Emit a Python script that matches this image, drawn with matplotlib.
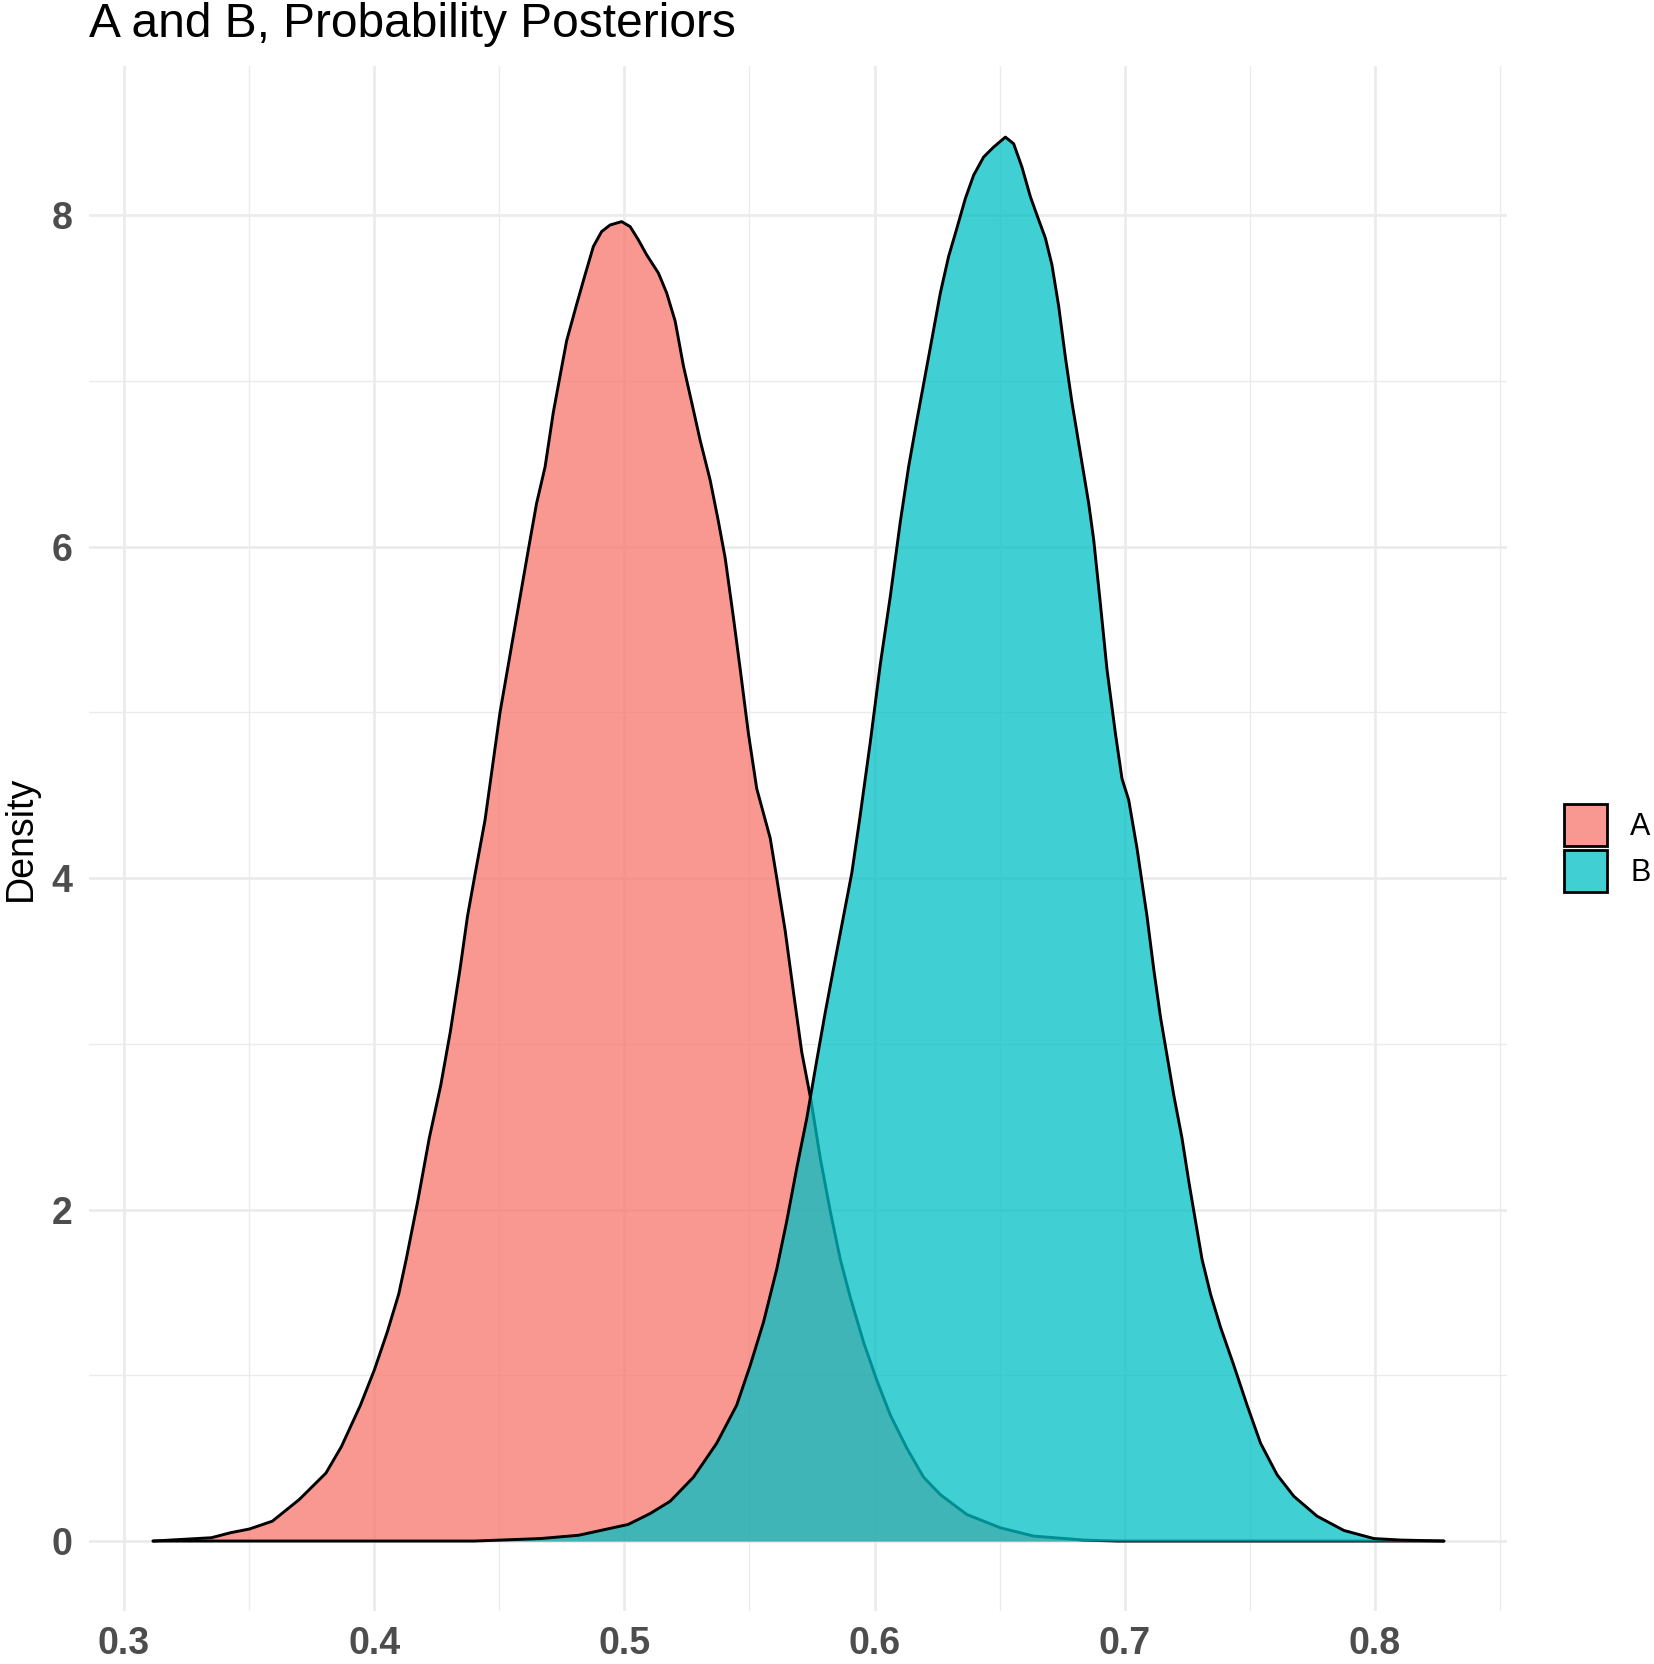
import matplotlib
matplotlib.use("Agg")
import matplotlib.pyplot as plt
from matplotlib.patches import Patch

plt.rcParams['font.family'] = ['Liberation Sans', 'DejaVu Sans']

# density curves (x, density)
a_x = [0.3116, 0.3349, 0.3425, 0.3502, 0.3593, 0.3700, 0.3807, 0.3869, 0.3945, 0.4000,
       0.4052, 0.4098, 0.4128, 0.4174, 0.4220, 0.4266, 0.4304, 0.4343, 0.4373, 0.4404,
       0.4443, 0.4503, 0.4556, 0.4616, 0.4649, 0.4683, 0.4716, 0.4743, 0.4769, 0.4809,
       0.4843, 0.4876, 0.4909, 0.4943, 0.4989, 0.5023, 0.5056, 0.5089, 0.5136, 0.5169,
       0.5203, 0.5236, 0.5269, 0.5303, 0.5343, 0.5376, 0.5403, 0.5436, 0.5463, 0.5496,
       0.5529, 0.5583, 0.5609, 0.5643, 0.5676, 0.5709, 0.5747, 0.5783, 0.5823, 0.5863,
       0.5903, 0.5956, 0.6009, 0.6063, 0.6129, 0.6196, 0.6263, 0.6369, 0.6503, 0.6636,
       0.6836, 0.6970, 0.8276]
a_y = [0.0, 0.02, 0.05, 0.073, 0.12, 0.25, 0.41, 0.57, 0.82, 1.03,
       1.26, 1.49, 1.70, 2.05, 2.43, 2.75, 3.07, 3.45, 3.77, 4.03,
       4.35, 5.00, 5.46, 5.98, 6.26, 6.48, 6.81, 7.03, 7.24, 7.46,
       7.64, 7.81, 7.90, 7.94, 7.96, 7.93, 7.85, 7.76, 7.65, 7.53,
       7.36, 7.09, 6.87, 6.64, 6.40, 6.15, 5.93, 5.57, 5.26, 4.87,
       4.54, 4.24, 4.00, 3.68, 3.31, 2.95, 2.65, 2.31, 1.99, 1.70,
       1.47, 1.20, 0.97, 0.76, 0.56, 0.385, 0.28, 0.16, 0.08, 0.03,
       0.006, 0.0, 0.0]

b_x = [0.3116, 0.4400, 0.4664, 0.4817, 0.5015, 0.5103, 0.5183, 0.5276, 0.5369, 0.5449,
       0.5503, 0.5556, 0.5609, 0.5649, 0.5689, 0.5729, 0.5769, 0.5803, 0.5843, 0.5876,
       0.5909, 0.5940, 0.5983, 0.6023, 0.6063, 0.6103, 0.6136, 0.6169, 0.6196, 0.6229,
       0.6263, 0.6296, 0.6329, 0.6363, 0.6396, 0.6436, 0.6476, 0.6523, 0.6556, 0.6589,
       0.6623, 0.6649, 0.6683, 0.6709, 0.6736, 0.6763, 0.6789, 0.6823, 0.6856, 0.6876,
       0.6903, 0.6929, 0.6963, 0.6989, 0.7016, 0.7049, 0.7089, 0.7116, 0.7143, 0.7169,
       0.7196, 0.7229, 0.7256, 0.7283, 0.7309, 0.7343, 0.7383, 0.7436, 0.7489, 0.7543,
       0.7609, 0.7676, 0.7769, 0.7876, 0.7996, 0.8103, 0.8276]
b_y = [0.0, 0.0, 0.015, 0.035, 0.10, 0.166, 0.24, 0.385, 0.59, 0.82,
       1.06, 1.32, 1.64, 1.93, 2.25, 2.55, 2.90, 3.19, 3.51, 3.77,
       4.03, 4.35, 4.82, 5.29, 5.70, 6.15, 6.48, 6.76, 6.98, 7.25,
       7.53, 7.75, 7.92, 8.10, 8.24, 8.35, 8.41, 8.47, 8.43, 8.29,
       8.11, 8.00, 7.86, 7.70, 7.45, 7.14, 6.87, 6.56, 6.26, 6.04,
       5.65, 5.26, 4.87, 4.60, 4.47, 4.18, 3.77, 3.45, 3.16, 2.93,
       2.69, 2.43, 2.17, 1.93, 1.70, 1.49, 1.29, 1.06, 0.82, 0.59,
       0.40, 0.27, 0.15, 0.064, 0.015, 0.006, 0.0]

groups = ['A', 'B']
colors = ['#F8766D', '#00BFC4']
x_ticks = [0.3, 0.4, 0.5, 0.6, 0.7, 0.8]
x_minor = [0.35, 0.45, 0.55, 0.65, 0.75, 0.85]
y_ticks = [0, 2, 4, 6, 8]
y_minor = [1, 3, 5, 7]

W, H = 1654, 1664
fig = plt.figure(figsize=(W / 100, H / 100), dpi=100)
ax = fig.add_axes([89 / W, 1 - 1611 / H, 1418 / W, 1545 / H])

grid = '#EBEBEB'
for v in x_minor:
    ax.axvline(v, color=grid, lw=1.0, zorder=0)
for v in y_minor:
    ax.axhline(v, color=grid, lw=1.0, zorder=0)
for v in x_ticks:
    ax.axvline(v, color=grid, lw=1.9, zorder=0)
for v in y_ticks:
    ax.axhline(v, color=grid, lw=1.9, zorder=0)

alpha = 0.75
for xs, ys, c in [(a_x, a_y, colors[0]), (b_x, b_y, colors[1])]:
    ax.fill_between(xs, ys, 0, color=c, alpha=alpha, lw=0, zorder=2)
    ax.plot(xs, ys, color='black', lw=2.1, zorder=2,
            solid_joinstyle='round', solid_capstyle='round')

ax.set_xlim(0.286, 0.8528)
ax.set_ylim(-0.422, 8.899)
ax.set_xticks(x_ticks)
ax.set_xticklabels(['0.3', '0.4', '0.5', '0.6', '0.7', '0.8'])
ax.set_yticks(y_ticks)
ax.tick_params(length=0, labelsize=27, labelcolor='#4D4D4D')
ax.tick_params(axis='x', pad=11)
ax.tick_params(axis='y', pad=12)
for lab in ax.get_xticklabels() + ax.get_yticklabels():
    lab.set_fontweight('bold')
for s in ax.spines.values():
    s.set_visible(False)

fig.text(89 / W, 1 - 37 / H, 'A and B, Probability Posteriors', fontsize=34.5,
         ha='left', va='baseline', color='black')
fig.text(3 / W, 1 - 838 / H, 'Density', fontsize=27, rotation=90,
         ha='left', va='center', color='black')

# keep the key edge opaque, only the fill is see-through
handles = [Patch(facecolor=matplotlib.colors.to_rgba(c, alpha), edgecolor='black', lw=2.0)
           for c in colors]
fig.legend(handles, groups, loc='center left', bbox_to_anchor=(1564 / W, 1 - 848 / H),
           frameon=False, fontsize=22, handlelength=1.42, handleheight=1.75,
           handletextpad=0.75, labelspacing=0.1, borderpad=0, borderaxespad=0)

fig.savefig('out.png', dpi=100, facecolor='white')
